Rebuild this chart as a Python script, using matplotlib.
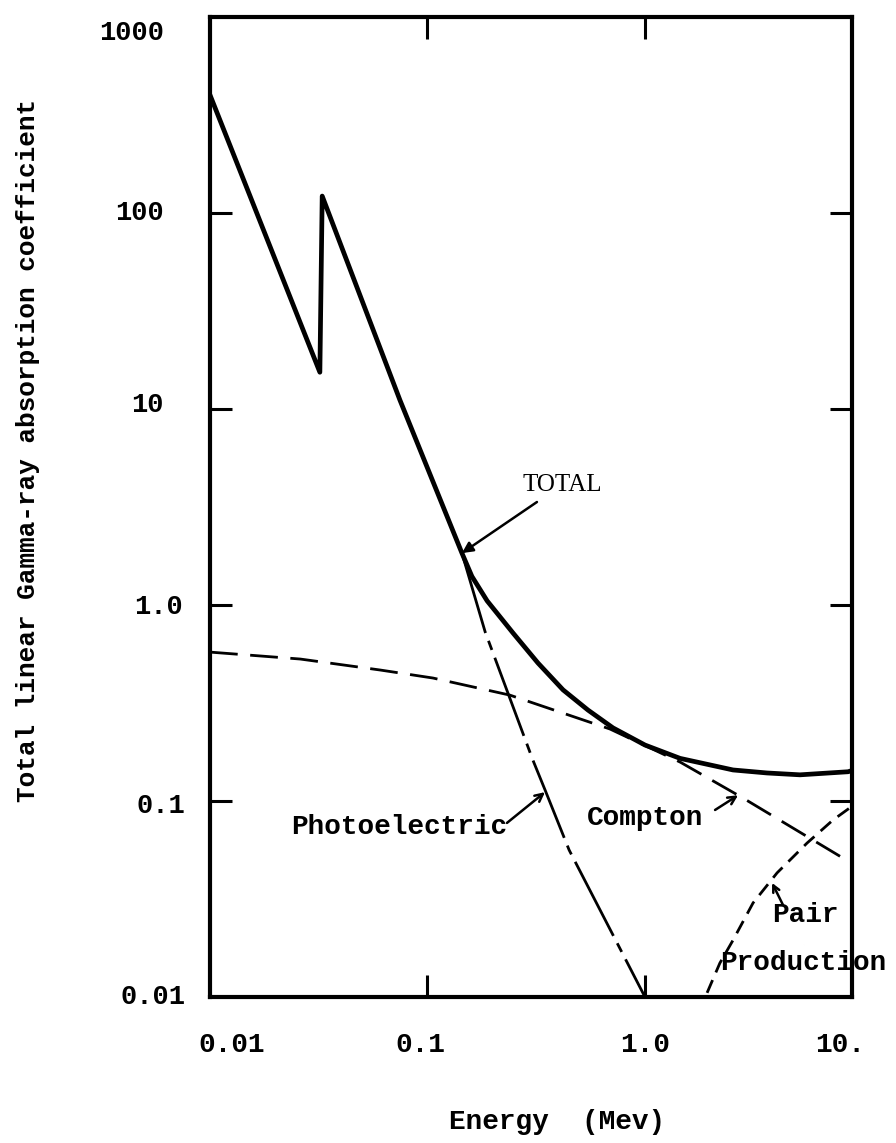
import numpy as np
import matplotlib.pyplot as plt
from matplotlib.ticker import NullLocator

# values (energy in MeV, coefficient)
total_E = [0.01, 0.032, 0.0328, 0.0747, 0.144, 0.160, 0.188, 0.248, 0.322, 0.42, 0.547,
           0.713, 1.0, 1.45, 2.54, 3.64, 5.16, 8.58, 8.95]
total_mu = [400, 15.4, 122, 11.1, 1.84, 1.40, 1.05, 0.717, 0.506, 0.369, 0.291,
            0.236, 0.193, 0.165, 0.144, 0.139, 0.136, 0.141, 0.143]

photo_E = [0.144, 0.184, 0.305, 0.347, 0.448, 1.0]
photo_mu = [1.84, 0.731, 0.162, 0.114, 0.0562, 0.010]

compton_E = [0.01, 0.026, 0.0605, 0.106, 0.239, 0.69, 1.45, 2.82, 5.92, 8.95]
compton_mu = [0.575, 0.53, 0.466, 0.424, 0.347, 0.233, 0.158, 0.1036, 0.0632, 0.048]

pair_E = [1.93, 2.21, 2.54, 3.14, 4.05, 5.56, 7.32, 8.95]
pair_mu = [0.0105, 0.0149, 0.0195, 0.0302, 0.043, 0.061, 0.080, 0.094]

ytick_vals = [1000, 100, 10, 1.0, 0.1, 0.01]
ytick_text = ["1000", "100", "10", "1.0", "0.1", "0.01"]
xtick_text = ["0.01", "0.1", "1.0", "10."]

mono = "Liberation Mono"
w = "bold"

fig = plt.figure(figsize=(8.96, 11.43), dpi=100)
ax = fig.add_axes([210 / 896, 1 - 997 / 1143, 642 / 896, 980 / 1143])
ax.set_xscale("log")
ax.set_yscale("log")
ax.set_xlim(0.01, 8.95)
ax.set_ylim(0.01, 1000)

for s in ax.spines.values():
    s.set_linewidth(3)

ax.set_xticks([0.1, 1.0])
ax.set_yticks([0.1, 1.0, 10, 100])
ax.xaxis.set_minor_locator(NullLocator())
ax.yaxis.set_minor_locator(NullLocator())
ax.tick_params(which="both", direction="in", length=16, width=2.2,
               top=True, right=True, labelbottom=False, labelleft=False)

# curves
ax.plot(total_E, total_mu, color="black", lw=3.4, solid_joinstyle="round")
ax.plot(photo_E, photo_mu, color="black", lw=2, linestyle=(0, (30, 3, 3.5, 3)))
ax.plot(compton_E, compton_mu, color="black", lw=2, linestyle=(0, (10, 4.5)))
ax.plot(pair_E, pair_mu, color="black", lw=2, linestyle=(0, (5, 3)))

# tick labels (typed by hand in the original, so placed one by one)
ylab_right = [164, 164, 164, 183, 185, 185]
ylab_dy = [-16, 0, 4, -2, -5, 0]
for v, t, xr, dy in zip(ytick_vals, ytick_text, ylab_right, ylab_dy):
    ax.annotate(t, xy=(0, v), xycoords=("axes fraction", "data"),
                xytext=((xr - 210) * 0.72, dy * 0.72), textcoords="offset points",
                ha="right", va="center", fontsize=19.5, family=mono, weight=w)

xlab_pos = [0.034, 0.327, 0.678, 0.981]
for p, t in zip(xlab_pos, xtick_text):
    ax.text(p, -0.049, t, transform=ax.transAxes, ha="center", va="center",
            fontsize=20, family=mono, weight=w)

fig.text(0.031, 0.606, "Total linear Gamma-ray absorption coefficient",
         rotation=90, ha="center", va="center", fontsize=18.8, family=mono, weight=w)
fig.text(0.622, 0.018, "Energy  (Mev)", ha="center", va="center",
         fontsize=20, family=mono, weight=w)

# labels with pointers
ax.annotate("TOTAL", xy=(0.144, 1.84), xytext=(0.272, 4.09),
            ha="left", va="center", fontsize=18, family="Liberation Serif",
            arrowprops=dict(arrowstyle="-|>", color="black", lw=1.8,
                            mutation_scale=16, shrinkA=4, shrinkB=0))
ax.annotate("Photoelectric", xy=(0.347, 0.111), xytext=(0.0236, 0.0737),
            ha="left", va="center", fontsize=20, family=mono, weight=w)
ax.annotate("", xy=(0.347, 0.111), xytext=(0.232, 0.0773),
            arrowprops=dict(arrowstyle="->", color="black", lw=1.8,
                            mutation_scale=14, shrinkA=0, shrinkB=0))
ax.annotate("Compton", xy=(2.68, 0.107), xytext=(0.541, 0.0819),
            ha="left", va="center", fontsize=20, family=mono, weight=w)
ax.annotate("", xy=(2.68, 0.107), xytext=(2.10, 0.090),
            arrowprops=dict(arrowstyle="->", color="black", lw=1.8,
                            mutation_scale=14, shrinkA=0, shrinkB=0))
ax.text(3.84, 0.0262, "Pair", ha="left", va="center", fontsize=20,
        family=mono, weight=w)
ax.text(2.21, 0.0149, "Production", ha="left", va="center", fontsize=20,
        family=mono, weight=w, clip_on=False)
ax.annotate("", xy=(3.84, 0.0382), xytext=(4.31, 0.0295),
            arrowprops=dict(arrowstyle="->", color="black", lw=1.8,
                            mutation_scale=12, shrinkA=0, shrinkB=0))

fig.savefig("out.png", dpi=100)
